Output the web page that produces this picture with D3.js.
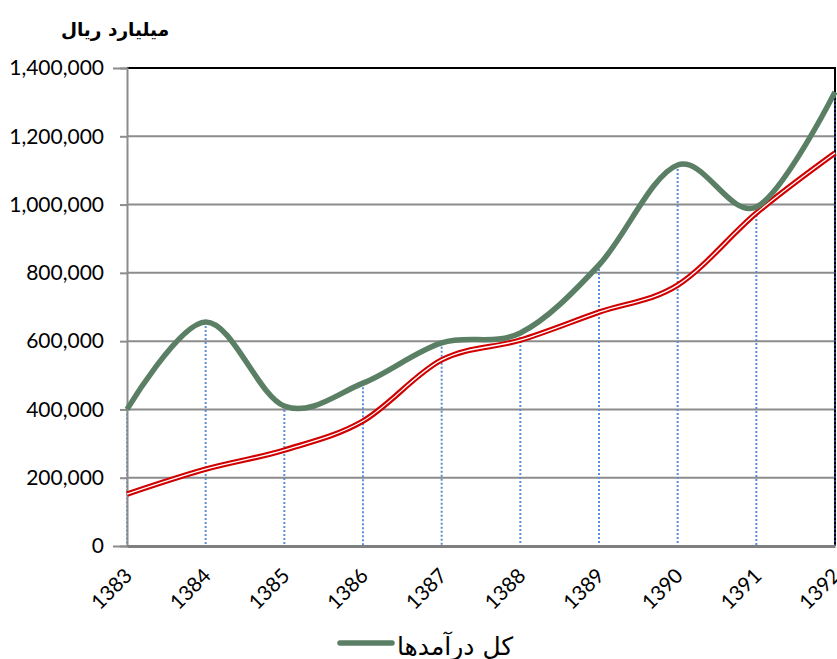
<!DOCTYPE html>
<html><head><meta charset="utf-8">
<script src="https://cdn.jsdelivr.net/npm/d3@7"></script>
<style>body{margin:0;background:#fff}svg{display:block}</style>
</head><body>
<svg id="c" width="837" height="659"></svg>
<script>
const years = ["1383","1384","1385","1386","1387","1388","1389","1390","1391","1392"];
const totalIncome = [400000,656000,410000,477000,595000,624000,823000,1116000,993000,1330000];
const otherSeries = [152000,225000,281000,366000,545000,603000,685000,764000,975000,1151000];
const yTicks = [0,200000,400000,600000,800000,1000000,1200000,1400000];
const titleText = "میلیارد ریال";
const legendText = "کل درآمدها";

const svg = d3.select("#c");
const L=127,R=835,T=68,B=546;
const x = d3.scalePoint().domain(years).range([L,R]);
const y = d3.scaleLinear().domain([0,1400000]).range([B,T]);
const font = "Lato, 'Open Sans', sans-serif";

// gridlines
svg.append("g").selectAll("line").data(yTicks.filter(d=>d>0&&d<1400000)).join("line")
  .attr("x1",L).attr("x2",R).attr("y1",d=>y(d)).attr("y2",d=>y(d))
  .attr("stroke","#8c8c8c").attr("stroke-width",2);
// top & right border
svg.append("path").attr("d",`M${L},${T}H${R}V${B}`).attr("fill","none").attr("stroke","#000").attr("stroke-width",2);

// drop lines
svg.append("g").selectAll("line").data(years).join("line")
  .attr("x1",d=>x(d)).attr("x2",d=>x(d))
  .attr("y1",(d,i)=>y(Math.max(totalIncome[i],otherSeries[i]))).attr("y2",B)
  .attr("stroke",(d,i)=>i===years.length-1?"#1f3b73":"#5b8fd9").attr("stroke-width",2)
  .attr("stroke-dasharray","2,2");

// y axis
const ya = svg.append("g").attr("transform",`translate(${L},0)`)
  .call(d3.axisLeft(y).tickValues(yTicks).tickFormat(d3.format(",")).tickSize(14).tickPadding(9));
ya.select(".domain").attr("stroke","#8c8c8c").attr("stroke-width",2);
ya.selectAll(".tick line").attr("stroke","#8c8c8c").attr("stroke-width",2)
  .attr("x2",(d)=>d===1400000?-7:-7);
ya.selectAll("text").attr("font-family",font).attr("font-size",21).attr("fill","#000")
  .attr("x",-23);

// x axis
const xa = svg.append("g").attr("transform",`translate(0,${B})`)
  .call(d3.axisBottom(x).tickSize(0).tickPadding(0));
xa.select(".domain").attr("stroke","#7f7f7f").attr("stroke-width",3);
xa.selectAll("text").attr("font-family",font).attr("font-size",20.5).attr("fill","#000")
  .attr("text-anchor","end").attr("dy",0)
  .attr("transform","translate(6,31) rotate(-45)");

const line = d3.line().x((d,i)=>x(years[i])).y(d=>y(d)).curve(d3.curveCatmullRom.alpha(0));

// red double line
svg.append("path").attr("d",line(otherSeries)).attr("fill","none").attr("stroke","#d00000").attr("stroke-width",5.5);
svg.append("path").attr("d",line(otherSeries)).attr("fill","none").attr("stroke","#fff").attr("stroke-width",1.3);
// green line
svg.append("path").attr("d",line(totalIncome)).attr("fill","none").attr("stroke","#5b7f64").attr("stroke-width",5.5).attr("stroke-linejoin","round");

// title
svg.append("text").attr("x",115).attr("y",36).attr("text-anchor","middle")
  .attr("font-family","'DejaVu Sans', 'Noto Sans', sans-serif").attr("font-weight","bold").attr("font-size",18.5)
  .attr("direction","rtl").text(titleText);

// legend
svg.append("line").attr("x1",340).attr("x2",392).attr("y1",643).attr("y2",643)
  .attr("stroke","#5b7f64").attr("stroke-width",5.5).attr("stroke-linecap","round");
svg.append("text").attr("x",397).attr("y",655).attr("text-anchor","start")
  .attr("font-family","'DejaVu Sans', 'Noto Sans', sans-serif").attr("font-size",25)
  .attr("direction","ltr").text(legendText);
</script>
</body></html>
